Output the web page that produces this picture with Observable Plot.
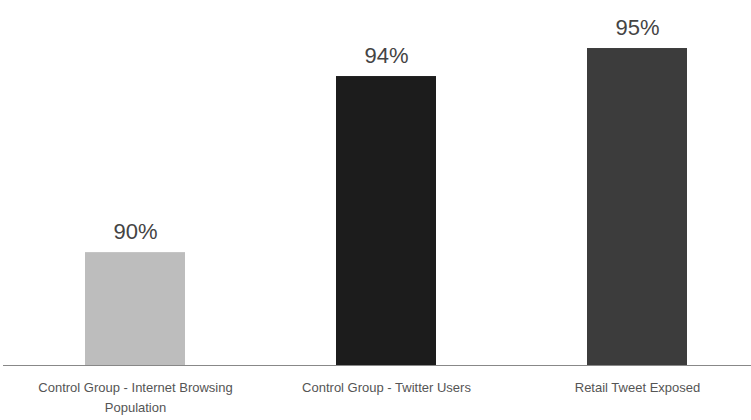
<!DOCTYPE html>
<html>
<head>
<meta charset="utf-8">
<script src="https://cdn.jsdelivr.net/npm/d3@7"></script>
<script src="https://cdn.jsdelivr.net/npm/@observablehq/plot@0.6"></script>
<style>
  html, body { margin: 0; padding: 0; background: #fff; }
  #chart { width: 751px; height: 420px; }
</style>
</head>
<body>
<div id="chart"></div>
<script>
const categories = [
  "Control Group - Internet Browsing\nPopulation",
  "Control Group - Twitter Users",
  "Retail Tweet Exposed"
];
// bar heights (labels are rounded)
const values = [89.6, 94.0, 94.7];
const valueLabels = ["90%", "94%", "95%"];
const barColors = ["#bdbdbd", "#1c1c1c", "#3c3c3c"];

const data = categories.map((c, i) => ({ category: c, value: values[i], label: valueLabels[i], color: barColors[i] }));

const yDomain = [86.78, 95.5];

const chart = Plot.plot({
  width: 751,
  height: 420,
  marginLeft: 47,
  marginRight: 25,
  marginTop: 16,
  marginBottom: 55,
  style: { fontFamily: "Liberation Sans, Arial, sans-serif", background: "#fff" },
  x: { domain: categories, paddingInner: 0.6, paddingOuter: 0.15, label: null },
  y: { domain: yDomain, axis: null },
  marks: [
    Plot.barY(data, { x: "category", y1: () => yDomain[0], y2: "value", fill: d => d.color }),
    Plot.ruleY([yDomain[0]], { stroke: "#888", strokeWidth: 1, insetLeft: -44, insetRight: -25 }),
    Plot.text(data, { x: "category", y: "value", text: "label", lineAnchor: "bottom", dy: -14, fontSize: 22, fill: "#444" }),
    Plot.axisX({ tickSize: 0, tickPadding: 13, fontSize: 13, lineHeight: 1.5, fill: "#555", label: null })
  ]
});
document.getElementById("chart").appendChild(chart);
</script>
</body>
</html>
